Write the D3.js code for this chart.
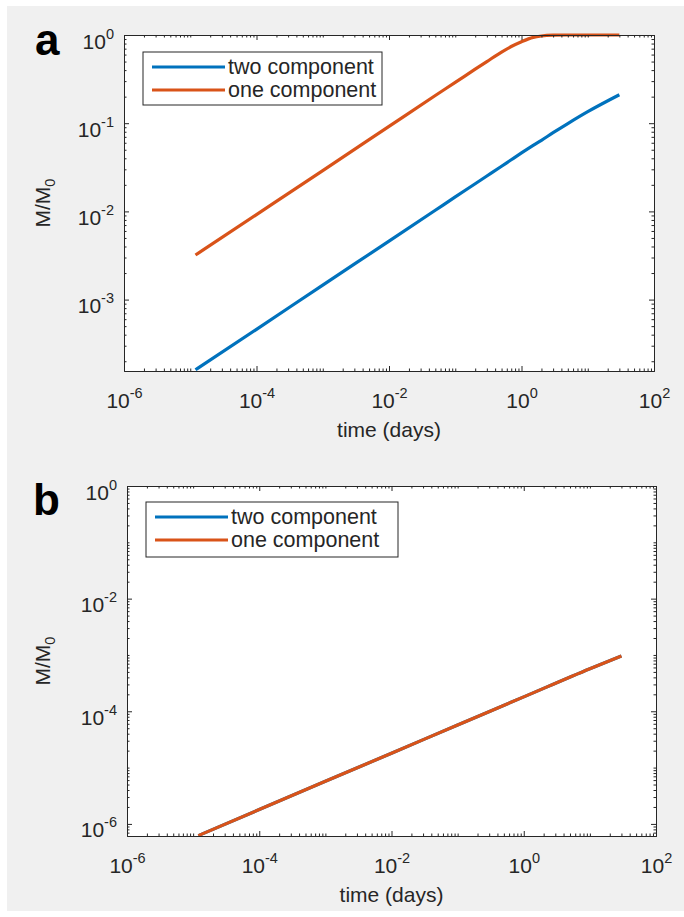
<!DOCTYPE html>
<html>
<head>
<meta charset="utf-8">
<script src="https://cdn.jsdelivr.net/npm/d3@7"></script>
<style>
  body { margin: 0; background: #fff; }
  text { font-family: "Liberation Sans", Arial, sans-serif; fill: #262626; }
</style>
</head>
<body>
<div id="vis"></div>
<script>
// values (time in days, M/M0)
const timeA = [1.2e-5, 1e-4, 1e-3, 1e-2, 0.05, 0.1, 0.2, 0.3, 0.5, 0.7, 1, 1.5, 2, 3, 5, 10, 30];
const twoA  = [1.6e-4, 4.6e-4, 1.46e-3, 4.6e-3, 0.0103, 0.0146, 0.0206, 0.0252, 0.0325, 0.0385, 0.046, 0.056, 0.064, 0.078, 0.099, 0.135, 0.21];
const oneA  = [3.2e-3, 9.2e-3, 0.029, 0.092, 0.206, 0.29, 0.41, 0.5, 0.64, 0.74, 0.84, 0.94, 0.975, 0.995, 1, 1, 1];

const timeB = [1.2e-5, 1e-4, 1e-3, 1e-2, 0.1, 1, 10, 30];
const twoB  = [6.2e-7, 1.8e-6, 5.7e-6, 1.8e-5, 5.7e-5, 1.8e-4, 5.7e-4, 9.6e-4];
const oneB  = [6.2e-7, 1.8e-6, 5.7e-6, 1.8e-5, 5.7e-5, 1.8e-4, 5.7e-4, 9.6e-4];

const xTicks = [1e-6, 1e-4, 1e-2, 1e0, 1e2];
const yTicksA = [1e-3, 1e-2, 1e-1, 1e0];
const yTicksB = [1e-6, 1e-4, 1e-2, 1e0];
const seriesNames = ["two component", "one component"];

const W = 684, H = 917;
const color = d3.scaleOrdinal().domain(seriesNames).range(["#0072BD", "#D95319"]);

let svg = d3.select('#vis')
  .append('svg')
  .attr('width', W)
  .attr('height', H);

// figure background
svg.append('rect')
  .attr('x', 7).attr('y', 6)
  .attr('width', W - 7).attr('height', 905)
  .attr('fill', '#f0f0f0');

// minor ticks for a log scale: every k*10^n not in the labelled set
function minorTicks(domain, major) {
  let out = [];
  let lo = Math.floor(Math.log10(domain[0])), hi = Math.ceil(Math.log10(domain[1]));
  for (let e = lo; e <= hi; e++) {
    for (let k = 1; k < 10; k++) {
      let v = k * Math.pow(10, e);
      if (v < domain[0] * 0.999 || v > domain[1] * 1.001) continue;
      if (major.some(m => Math.abs(v / m - 1) < 1e-6)) continue;
      out.push(v);
    }
  }
  return out;
}

function exponentLabel(sel) {
  sel.each(function(d) {
    let t = d3.select(this);
    let e = Math.round(Math.log10(d));
    t.text('10');
    t.append('tspan').attr('dy', -10).style('font-size', '14.5px').text(e);
  });
}

function panel(p) {
  let x = d3.scaleLog().domain([1e-6, 1e2]).range([p.left, p.right]);
  let y = d3.scaleLog().domain(p.yDomain).range([p.bottom, p.top]);

  let g = svg.append('g');

  g.append('rect')
    .attr('x', p.left).attr('y', p.top)
    .attr('width', p.right - p.left).attr('height', p.bottom - p.top)
    .attr('fill', '#fff');

  // lines
  let line = d3.line()
    .x(d => x(d[0]))
    .y(d => y(d[1]))
    .curve(d3.curveMonotoneX);

  p.series.forEach((s, i) => {
    g.append('path')
      .datum(p.time.map((t, j) => [t, s[j]]))
      .attr('fill', 'none')
      .attr('stroke', color(seriesNames[i]))
      .attr('stroke-width', 3.2)
      .attr('stroke-linejoin', 'round')
      .attr('d', line);
  });

  const axisStyle = sel => {
    sel.select('.domain').attr('stroke', '#262626');
    sel.selectAll('.tick line').attr('stroke', '#262626');
    sel.attr('font-size', null).attr('font-family', null);
  };

  let xMinor = minorTicks(x.domain(), xTicks);
  let yMinor = minorTicks(y.domain(), p.yTicks);

  // bottom axis with labels
  g.append('g')
    .attr('transform', `translate(0,${p.bottom})`)
    .call(d3.axisBottom(x).tickValues(xTicks).tickSizeInner(-5).tickSizeOuter(0).tickPadding(0))
    .call(axisStyle)
    .call(a => a.selectAll('.tick text')
      .attr('y', 37).attr('dy', null)
      .style('font-size', '21px')
      .call(exponentLabel));
  g.append('g')
    .attr('transform', `translate(0,${p.bottom})`)
    .call(d3.axisBottom(x).tickValues(xMinor).tickSizeInner(-2.5).tickSizeOuter(0).tickFormat(''))
    .call(axisStyle);
  // top axis
  g.append('g')
    .attr('transform', `translate(0,${p.top})`)
    .call(d3.axisTop(x).tickValues(xTicks).tickSizeInner(-5).tickSizeOuter(0).tickFormat(''))
    .call(axisStyle);
  g.append('g')
    .attr('transform', `translate(0,${p.top})`)
    .call(d3.axisTop(x).tickValues(xMinor).tickSizeInner(-2.5).tickSizeOuter(0).tickFormat(''))
    .call(axisStyle);

  // left axis with labels
  g.append('g')
    .attr('transform', `translate(${p.left},0)`)
    .call(d3.axisLeft(y).tickValues(p.yTicks).tickSizeInner(-5).tickSizeOuter(0).tickPadding(0))
    .call(axisStyle)
    .call(a => a.selectAll('.tick text')
      .attr('x', -10).attr('dy', 13)
      .style('font-size', '21px')
      .call(exponentLabel));
  g.append('g')
    .attr('transform', `translate(${p.left},0)`)
    .call(d3.axisLeft(y).tickValues(yMinor).tickSizeInner(-2.5).tickSizeOuter(0).tickFormat(''))
    .call(axisStyle);
  // right axis
  g.append('g')
    .attr('transform', `translate(${p.right},0)`)
    .call(d3.axisRight(y).tickValues(p.yTicks).tickSizeInner(-5).tickSizeOuter(0).tickFormat(''))
    .call(axisStyle);
  g.append('g')
    .attr('transform', `translate(${p.right},0)`)
    .call(d3.axisRight(y).tickValues(yMinor).tickSizeInner(-2.5).tickSizeOuter(0).tickFormat(''))
    .call(axisStyle);

  // axis titles
  g.append('text')
    .attr('x', (p.left + p.right) / 2)
    .attr('y', p.bottom + 66)
    .attr('text-anchor', 'middle')
    .style('font-size', '21px')
    .text('time (days)');

  let yl = g.append('text')
    .attr('transform', `translate(50,${(p.top + p.bottom) / 2}) rotate(-90)`)
    .attr('text-anchor', 'middle')
    .style('font-size', '21px')
    .text('M/M');
  yl.append('tspan').attr('dy', 5).style('font-size', '14.5px').text('0');

  // panel letter
  g.append('text')
    .attr('x', p.letterX).attr('y', p.letterY)
    .style('font-size', '44px')
    .style('font-weight', 'bold')
    .style('fill', '#000')
    .text(p.letter);

  // legend
  let lg = g.append('g');
  lg.append('rect')
    .attr('x', p.legend.x).attr('y', p.legend.y)
    .attr('width', p.legend.w).attr('height', p.legend.h)
    .attr('fill', '#fff')
    .attr('stroke', '#262626')
    .attr('stroke-width', 1);
  seriesNames.forEach((name, i) => {
    let ly = p.legend.y + 15 + i * 23;
    lg.append('line')
      .attr('x1', p.legend.x + 9).attr('x2', p.legend.x + 82)
      .attr('y1', ly).attr('y2', ly)
      .attr('stroke', color(name))
      .attr('stroke-width', 3.2);
    lg.append('text')
      .attr('x', p.legend.x + 85)
      .attr('y', ly + 7)
      .style('font-size', '21.5px')
      .text(name);
  });
}

panel({
  left: 124, right: 654, top: 35, bottom: 371,
  yDomain: [1.55e-4, 1], yTicks: yTicksA,
  time: timeA, series: [twoA, oneA],
  letter: 'a', letterX: 35, letterY: 55,
  legend: { x: 143, y: 52, w: 239, h: 53 }
});

panel({
  left: 127, right: 656, top: 486, bottom: 836,
  yDomain: [6.1e-7, 1], yTicks: yTicksB,
  time: timeB, series: [twoB, oneB],
  letter: 'b', letterX: 33, letterY: 515,
  legend: { x: 146, y: 502, w: 252, h: 55 }
});
</script>
</body>
</html>
